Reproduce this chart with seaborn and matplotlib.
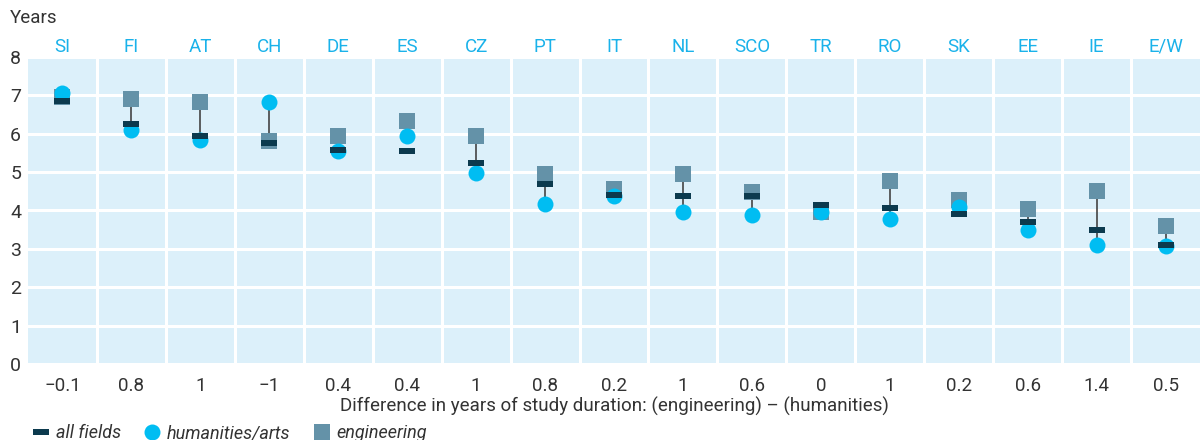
import matplotlib
matplotlib.use("Agg")
import matplotlib.pyplot as plt
from matplotlib.path import Path
from matplotlib.lines import Line2D
import numpy as np
import pandas as pd
import seaborn as sns

# Data
countries = ['SI', 'FI', 'AT', 'CH', 'DE', 'ES', 'CZ', 'PT', 'IT', 'NL',
             'SCO', 'TR', 'RO', 'SK', 'EE', 'IE', 'E/W']
all_fields = [6.85, 6.25, 5.95, 5.75, 5.58, 5.55, 5.25, 4.7, 4.4, 4.37,
              4.37, 4.15, 4.07, 3.9, 3.7, 3.48, 3.1]
humanities = [7.05, 6.1, 5.83, 6.82, 5.55, 5.95, 4.97, 4.17, 4.37, 3.97,
              3.88, 3.95, 3.78, 4.1, 3.48, 3.1, 3.08]
engineering = [6.95, 6.9, 6.82, 5.82, 5.95, 6.33, 5.95, 4.95, 4.57, 4.95,
               4.48, 3.97, 4.77, 4.28, 4.05, 4.5, 3.6]
diff_labels = ['\u22120.1', '0.8', '1', '\u22121', '0.4', '0.4', '1', '0.8', '0.2', '1',
               '0.6', '0', '1', '0.2', '0.6', '1.4', '0.5']

df = pd.DataFrame({'pos': np.arange(len(countries)), 'country': countries,
                   'all': all_fields, 'hum': humanities, 'eng': engineering})

c_bg = '#dcf0fa'
c_hum = '#00bdf2'
c_eng = '#6492a8'
c_all = '#0c3a4e'
c_lab = '#1ab2ea'
c_txt = '#333333'

plt.rcParams['font.family'] = ['Roboto', 'DejaVu Sans']

# flat bar marker for "all fields"
bar_marker = Path([(-1, -0.4), (1, -0.4), (1, 0.4), (-1, 0.4), (-1, -0.4)],
                  [Path.MOVETO, Path.LINETO, Path.LINETO, Path.LINETO, Path.CLOSEPOLY])

fig = plt.figure(figsize=(12, 4.4), dpi=100)
ax = fig.add_axes([28 / 1200, 1 - 364 / 440, 1 - 28 / 1200, 307 / 440])
ax.set_facecolor(c_bg)

ax.vlines(df['pos'], df['hum'], df['eng'], color='#444444', lw=1.2, zorder=2)
sns.scatterplot(data=df, x='pos', y='eng', marker='s', s=12.2 ** 2, color=c_eng,
                linewidth=0, ax=ax, zorder=3)
sns.scatterplot(data=df, x='pos', y='hum', marker='o', s=11.5 ** 2, color=c_hum,
                linewidth=0, ax=ax, zorder=4)
sns.scatterplot(data=df, x='pos', y='all', marker=bar_marker, s=11.5 ** 2, color=c_all,
                linewidth=0, ax=ax, zorder=5)

ax.set_xlim(-0.5, len(countries) - 0.5)
ax.set_ylim(0, 8)
ax.set_yticks(range(0, 9))
ax.set_xticks(df['pos'])
ax.set_xticklabels(diff_labels)
ax.set_xticks(np.arange(0.5, len(countries) - 0.5, 1), minor=True)
ax.grid(True, which='minor', axis='x', color='white', lw=2.2)
ax.grid(True, which='major', axis='y', color='white', lw=2.2)
ax.grid(False, which='major', axis='x')
ax.set_axisbelow(True)
for sp in ax.spines.values():
    sp.set_visible(False)
ax.tick_params(which='both', length=0)
ax.tick_params(axis='y', pad=5, labelsize=14, labelcolor=c_txt)
ax.tick_params(axis='x', pad=9, labelsize=13.5, labelcolor=c_txt)
ax.set_ylabel('')
ax.set_xlabel('Difference in years of study duration: (engineering) \u2013 (humanities)',
              fontsize=13.5, color=c_txt, labelpad=2)

top = ax.secondary_xaxis('top')
top.set_xticks(df['pos'])
top.set_xticklabels(countries)
top.tick_params(length=0, pad=1, labelsize=13.5, labelcolor=c_lab)
for sp in top.spines.values():
    sp.set_visible(False)

fig.text(10 / 1200, 1 - 18 / 440, 'Years', fontsize=13.5, color=c_txt, va='center')

handles = [
    Line2D([], [], ls='none', marker=bar_marker, ms=11.5, color=c_all, mew=0),
    Line2D([], [], ls='none', marker='o', ms=11.5, color=c_hum, mew=0),
    Line2D([], [], ls='none', marker='s', ms=12.2, color=c_eng, mew=0),
]
fig.legend(handles, ['all fields', 'humanities/arts', 'engineering'], ncol=3,
           loc='lower left', bbox_to_anchor=(0.014, -0.042), frameon=False,
           prop={'style': 'italic', 'size': 13}, labelcolor=c_txt,
           handlelength=0.9, handletextpad=0.35, columnspacing=1.3)

fig.savefig('out.png', dpi=100)
